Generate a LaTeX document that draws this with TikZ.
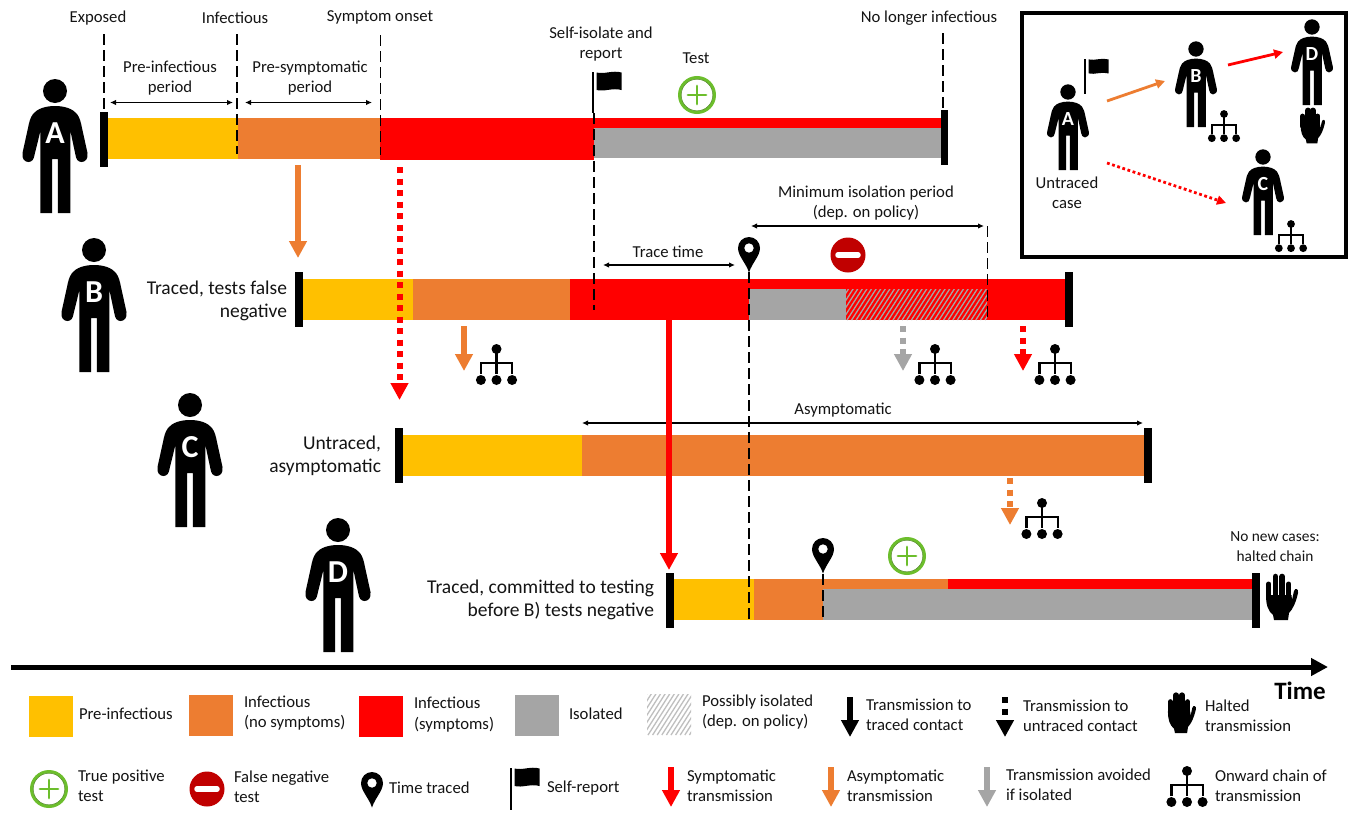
\documentclass[tikz,border=0pt]{standalone}
\usepackage{fontspec}
\setmainfont{Carlito}
\usetikzlibrary{arrows.meta}
\definecolor{cyell}{HTML}{FFC000}
\definecolor{corange}{HTML}{ED7D31}
\definecolor{cred}{HTML}{FF0000}
\definecolor{cgray}{HTML}{A5A5A5}
\definecolor{cdred}{HTML}{C00000}
\definecolor{cgreen}{HTML}{6CBE2C}
\definecolor{chatch}{HTML}{BFBFBF}
\tikzset{
  lbl/.style={inner sep=0pt,outer sep=0pt,font=\fontsize{16.7}{20.2}\selectfont,text=black!92},
  biglbl/.style={inner sep=0pt,outer sep=0pt,font=\fontsize{19.5}{22.5}\selectfont,text=black!92},
  solidarrow/.style={line width=6pt,-{Triangle[length=17pt,width=17pt]}},
  dotarrow/.style={solidarrow,dash pattern=on 6pt off 5.5pt},
  thinarrow/.style={line width=2.8pt,-{Triangle[length=9pt,width=9pt]}},
  thindot/.style={thinarrow,dash pattern=on 2.8pt off 2.6pt},
  dashline/.style={line width=1.3pt,dash pattern=on 11pt off 5pt},
  spanarrow/.style={line width=1.2pt,{Latex[length=6pt,width=5.5pt]}-{Latex[length=6pt,width=5.5pt]}},
  endbar/.style={fill=black},
}
% label: name, x, y, anchor, alignment, text
\newcommand{\lab}[6]{\node[lbl,anchor=#4,align=#5] (#1) at (#2,#3) {#6};}
\newcommand{\biglab}[4]{\node[biglbl,anchor=east,align=right] (#1) at (#2,#3) {#4};}
% connector: name, x1, y1, x2, y2, style
\newcommand{\conn}[6]{\coordinate (#1s) at (#2,#3);\coordinate (#1e) at (#4,#5);\draw[#6] (#1s) -- (#1e);}
% person: name, x, y of head centre, scale, letter, letter font size
\newcommand{\personfig}[6]{%
  \begin{scope}[shift={(#2,#3)},scale=#4]
    \fill[black] (0,0) circle[radius=12];
    \fill[black] (0,15) .. controls (-10,15) and (-18,18) .. (-22,23)
      .. controls (-25,27) and (-26,32) .. (-27,37) -- (-32.5,62)
      .. controls (-33.5,68) and (-30,71) .. (-26.5,71)
      .. controls (-23,71) and (-21,68) .. (-20.5,64) -- (-14.6,40)
      -- (-14.6,122) -- (-2.8,122) -- (-2.8,68) -- (2.8,68) -- (2.8,122) -- (15.4,122) -- (15.4,40)
      -- (20.5,64) .. controls (21,68) and (23,71) .. (26.5,71)
      .. controls (30,71) and (33.5,68) .. (32.5,62) -- (27,37)
      .. controls (26,32) and (25,27) .. (22,23)
      .. controls (18,18) and (10,15) .. (0,15) -- cycle;
    \node[inner sep=0pt,text=white,font=\fontsize{#6}{#6}\selectfont\bfseries] (#1) at (0,42) {#5};
  \end{scope}}
% flag: x of pole, top y, bottom y, flag scale
\newcommand{\flagfig}[4]{%
  \draw[line width=2.4pt] (#1,#2) -- (#1,#3);
  \begin{scope}[shift={(#1+3.5,#2)},scale=#4]
    \fill[black] (0,0.5) .. controls (8,2.5) and (16,-2) .. (25,0.5) -- (25,18)
      .. controls (16,15.5) and (8,20) .. (0,18) -- cycle;
  \end{scope}}
% chain: x, top-dot y, scale
\newcommand{\chainfig}[3]{%
  \begin{scope}[shift={(#1,#2)},scale=#3]
    \fill (0,0) circle[radius=5];
    \fill (-15.6,31) circle[radius=5];
    \fill (0,31) circle[radius=5];
    \fill (15.6,31) circle[radius=5];
    \draw[line width=2.2pt] (0,0) -- (0,25);
    \draw[line width=2.2pt] (-15.6,25) -- (-15.6,14) -- (15.6,14) -- (15.6,25);
  \end{scope}}
% pin: x, top y
\newcommand{\pinfig}[2]{%
  \begin{scope}[shift={(#1,#2)}]
    \fill[black,even odd rule] (0,35.5) .. controls (-3,26) and (-11,19) .. (-11,11)
      arc[start angle=180,end angle=360,radius=11]
      .. controls (11,19) and (3,26) .. (0,35.5) -- cycle
      (0,11) circle[radius=4.8];
  \end{scope}}
% green test: x, y
\newcommand{\testfig}[2]{%
  \draw[cgreen,line width=3pt,fill=white] (#1,#2) circle[radius=17.5];
  \draw[cgreen!70!black,line width=.5pt] (#1,#2) circle[radius=15.8];
  \draw[cgreen,line width=2.8pt,line cap=round] (#1-9,#2) -- (#1+9,#2) (#1,#2-9) -- (#1,#2+9);}
% false negative: x, y
\newcommand{\negfig}[2]{%
  \fill[cdred] (#1,#2) circle[radius=17.5];
  \draw[white,line width=5.5pt,line cap=round] (#1-10,#2) -- (#1+10,#2);}
% hand: x, y centre, scale
\newcommand{\handfig}[3]{%
  \begin{scope}[shift={(#1,#2)},scale=#3]
    \fill[black] (-15,-2) -- (10.5,-2) -- (11,3) -- (13,-6) .. controls (14,-9.5) and (18,-8.5) .. (17,-4)
      .. controls (15,5) and (12,12) .. (8,16) -- (7,23) -- (-7,23) -- (-8,18)
      .. controls (-13,14) and (-15,8) .. (-15,-2) -- cycle;
    \draw[line width=5pt,line cap=round] (-12.3,0) -- (-12.3,-13);
    \draw[line width=5.6pt,line cap=round] (-5.5,0) -- (-5.5,-20.5);
    \draw[line width=5.6pt,line cap=round] (1.2,0) -- (1.2,-20.5);
    \draw[line width=5pt,line cap=round] (7.8,0) -- (7.8,-13);
  \end{scope}}
% hatch: x1 y1 x2 y2 bg colour, line colour
\newcommand{\hatchrect}[6]{%
  \begin{scope}
    \clip (#1,#2) rectangle (#3,#4);
    \fill[#5] (#1,#2) rectangle (#3,#4);
    \foreach \k in {0,...,45}
      \draw[#6,line width=1.3pt] ({#1-45+\k*4.6},#4) -- ++(32,-50);
  \end{scope}}
\begin{document}
\begin{tikzpicture}[x=1pt,y=-1pt]
\useasboundingbox (0,0) rectangle (1352,817);
\fill[white] (0,0) rectangle (1352,817);

% ---- people
\personfig{pa}{55}{91}{1}{A}{32}
\personfig{pb}{94}{250}{1}{B}{32}
\personfig{pc}{190}{405}{1}{C}{32}
\personfig{pd}{338}{530}{1}{D}{32}

% ---- row A
\fill[cyell] (107,118) rectangle (238,159);
\fill[corange] (238,118) rectangle (380,159);
\fill[cred] (380,118) rectangle (594,160);
\fill[cred] (594,118) rectangle (943,128);
\fill[cgray] (594,128) rectangle (943,158);
\fill[endbar] (100,112) rectangle (108,167);
\fill[endbar] (941,110) rectangle (948,165);
\conn{dae}{104}{34}{104}{112}{dashline}
\conn{dai}{237}{34}{237}{154}{dashline}
\conn{das}{380.5}{35}{380.5}{155}{dashline}
\conn{dan}{943}{33}{943}{110}{dashline}
\conn{spa}{110}{102.5}{233}{102.5}{spanarrow}
\conn{spb}{245}{102.5}{372}{102.5}{spanarrow}
\flagfig{593}{72}{113}{1}
\testfig{697}{95}
\lab{texp}{98}{18}{center}{center}{Exposed}
\lab{tinf}{235}{18}{center}{center}{Infectious}
\lab{tsym}{380}{17}{center}{center}{Symptom onset}
\lab{tsel}{601}{44}{center}{center}{Self-isolate and\\report}
\lab{ttest}{696}{58}{center}{center}{Test}
\lab{tnol}{929}{18}{center}{center}{No longer infectious}
\lab{tprei}{170}{78}{center}{center}{Pre-infectious\\period}
\lab{tpres}{310}{78}{center}{center}{Pre-symptomatic\\period}

% ---- row B
\fill[cyell] (303,279) rectangle (413,320);
\fill[corange] (413,279) rectangle (570,320);
\fill[cred] (570,279) rectangle (1066,320);
\fill[cgray] (749,289) rectangle (846,320);
\hatchrect{846}{289}{987}{320}{cred}{cgray}
\fill[endbar] (295,272) rectangle (303,327);
\fill[endbar] (1065,272) rectangle (1073,327);
\conn{dar}{594}{113}{594}{310}{dashline}
\biglab{tbl}{287}{301}{Traced, tests false\\negative}
\conn{spt}{603}{265}{735}{265}{spanarrow}
\lab{ttt}{668}{252}{center}{center}{Trace time}
\pinfig{749}{237}
\negfig{848}{255}
\conn{spm}{751}{226}{984}{226}{spanarrow}
\conn{dam}{987.5}{226}{987.5}{320}{dashline}
\lab{tmin}{866}{203}{center}{center}{Minimum isolation period\\(dep. on policy)}
\conn{ab}{298}{165}{298}{258}{solidarrow,corange}
\conn{ac}{399.5}{167}{399.5}{400}{dotarrow,cred}
\conn{bo}{464}{326}{464}{371}{solidarrow,corange}
\chainfig{496.5}{349}{1}
\conn{bg}{903}{326}{903}{371}{dotarrow,cgray}
\chainfig{935}{349}{1}
\conn{br}{1023}{326}{1023}{371}{dotarrow,cred}
\chainfig{1055}{349}{1}

% ---- row C
\fill[cyell] (403,435) rectangle (582,476);
\fill[corange] (582,435) rectangle (1145,476);
\fill[endbar] (395,428) rectangle (403,483);
\fill[endbar] (1144,428) rectangle (1152,483);
\biglab{tcl}{381}{456}{Untraced,\\asymptomatic}
\conn{spc}{582}{423}{1143}{423}{spanarrow}
\lab{tasy}{843}{410}{center}{center}{Asymptomatic}
\conn{co}{1010}{478}{1010}{525}{dotarrow,corange}
\chainfig{1042}{503}{1}

% ---- row D
\fill[cyell] (674,579) rectangle (754,620);
\fill[corange] (754,579) rectangle (823,620);
\fill[corange] (823,579) rectangle (948,589);
\fill[cred] (948,579) rectangle (1255,589);
\fill[cgray] (823,589) rectangle (1255,620);
\fill[endbar] (666,573) rectangle (674,628);
\fill[endbar] (1252,573) rectangle (1260,628);
\conn{dat}{749}{272}{749}{621}{dashline}
\conn{bd}{669}{320}{669}{570}{solidarrow,cred}
\conn{dad}{823}{574}{823}{620}{dashline}
\pinfig{823}{538}
\testfig{907}{556}
\handfig{1281}{597}{1}
\biglab{tdl}{654}{600}{Traced, committed to testing\\before B) tests negative}
\node[inner sep=0pt,font=\fontsize{15.4}{20.2}\selectfont,align=center,text=black!92] (tnew) at (1275,547) {No new cases:\\halted chain};

% ---- time axis
\conn{tm}{11}{667}{1328}{667}{line width=5pt,-{Triangle[length=17pt,width=17pt]}}
\node[inner sep=0pt,font=\fontsize{25}{25}\selectfont\bfseries] (ttime) at (1300,691) {Time};

% ---- inset
\draw[line width=3.5pt] (1022,13) rectangle (1346,257);
\personfig{ia}{1068}{92}{.64}{A}{20}
\personfig{ib}{1196}{49}{.64}{B}{20}
\personfig{ic}{1263}{157}{.64}{C}{20}
\personfig{id}{1312}{27}{.64}{D}{20}
\flagfig{1085}{59}{94}{.8}
\conn{iab}{1107}{101}{1165}{81}{thinarrow,corange}
\conn{ibd}{1228}{65}{1283}{52}{thinarrow,cred}
\conn{iac}{1107}{163}{1226}{203}{thindot,cred}
\handfig{1312}{126}{.76}
\chainfig{1224}{114}{.78}
\chainfig{1291}{224}{.78}
\lab{tunt}{1067}{193}{center}{center}{Untraced\\case}

% ---- legend row 1
\fill[cyell] (29,696) rectangle (73,737);
\lab{l1}{79}{714}{west}{left}{Pre-infectious}
\fill[corange] (189,695) rectangle (233,736);
\lab{l2}{244}{713}{west}{left}{Infectious\\(no symptoms)}
\fill[cred] (359,696) rectangle (403,737);
\lab{l3}{414}{714.5}{west}{left}{Infectious\\(symptoms)}
\fill[cgray] (515,695) rectangle (559,736);
\lab{l4}{569}{714}{west}{left}{Isolated}
\hatchrect{647}{694}{691}{735}{white}{chatch}
\lab{l5}{702}{712}{west}{left}{Possibly isolated\\(dep. on policy)}
\conn{lk}{850}{697}{850}{737}{solidarrow,black}
\lab{l6}{866}{715}{west}{left}{Transmission to\\traced contact}
\conn{lu}{1005}{697}{1005}{737}{dotarrow,black}
\lab{l7}{1023}{716}{west}{left}{Transmission to\\untraced contact}
\handfig{1181}{713}{.87}
\lab{l8}{1205}{716}{west}{left}{Halted\\transmission}

% ---- legend row 2
\testfig{49}{789}
\lab{m1}{78}{786}{west}{left}{True positive\\test}
\negfig{207}{789}
\lab{m2}{234}{787}{west}{left}{False negative\\test}
\pinfig{372}{772}
\lab{m3}{389}{788}{west}{left}{Time traced}
\flagfig{511}{768}{810}{1}
\lab{m4}{547}{788}{west}{left}{Self-report}
\conn{ms}{671}{767}{671}{807}{solidarrow,cred}
\lab{m5}{687}{786}{west}{left}{Symptomatic\\transmission}
\conn{ma}{831}{767}{831}{807}{solidarrow,corange}
\lab{m6}{847}{786}{west}{left}{Asymptomatic\\transmission}
\conn{mg}{987}{767}{987}{807}{solidarrow,cgray}
\lab{m7}{1006}{785}{west}{left}{Transmission avoided\\if isolated}
\chainfig{1187}{771}{1}
\lab{m8}{1215}{786}{west}{left}{Onward chain of\\transmission}
\end{tikzpicture}
\end{document}
